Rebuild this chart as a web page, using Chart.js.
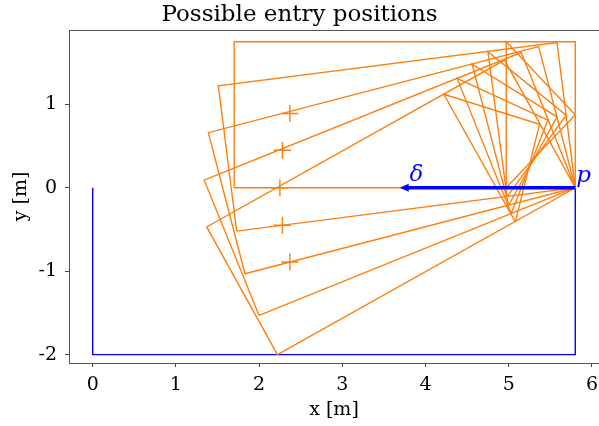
<!DOCTYPE html>
<html>
<head>
<meta charset="utf-8">
<script src="https://cdn.jsdelivr.net/npm/chart.js@4/dist/chart.umd.min.js"></script>
<style>
  html, body { margin: 0; padding: 0; background: #fff; overflow: hidden; }
  #wrap { width: 599px; height: 426px; }
</style>
</head>
<body>
<div id="wrap"><canvas id="entry-chart"></canvas></div>
<script>
// vehicle outlines, one per heading (corners), in metres
const carOutlines = [
  [[1.70, 0.00], [5.80, 0.00], [5.80, 1.75], [1.70, 1.75], [1.70, 0.00]],
  [[1.73, -0.52], [5.80, 0.00], [5.58, 1.74], [1.51, 1.22], [1.73, -0.52]],
  [[1.83, -1.03], [5.80, 0.00], [5.36, 1.69], [1.39, 0.66], [1.83, -1.03]],
  [[2.00, -1.53], [5.80, 0.00], [5.15, 1.62], [1.34, 0.09], [2.00, -1.53]],
  [[2.22, -2.00], [5.80, 0.00], [4.95, 1.53], [1.37, -0.47], [2.22, -2.00]]
];
// front marker (cross line + triangle to the nose)
const carNoses = [
  [[4.97, 0.00], [4.97, 1.75], [5.80, 0.875], [4.97, 0.00]],
  [[4.98, -0.11], [4.75, 1.63], [5.69, 0.87], [4.98, -0.11]],
  [[5.00, -0.21], [4.56, 1.48], [5.58, 0.85], [5.00, -0.21]],
  [[5.03, -0.31], [4.38, 1.31], [5.47, 0.81], [5.03, -0.31]],
  [[5.08, -0.41], [4.22, 1.12], [5.37, 0.76], [5.08, -0.41]]
];
const entryX = [2.37, 2.28, 2.25, 2.28, 2.37];
const entryY = [0.89, 0.45, 0.00, -0.45, -0.89];
const boundary = [[0, 0], [0, -2], [5.8, -2], [5.8, 0]];
const pointP = [5.8, 0];
const deltaEnd = [3.69, 0];
const xTicks = [0, 1, 2, 3, 4, 5, 6];
const yTicks = [-2, -1, 0, 1];

const ORANGE = '#ff7f0e';
const BLUE = '#0000ff';
const SERIF = '"DejaVu Serif", "Liberation Serif", serif';

const toPts = (arr) => arr.map(([x, y]) => ({ x, y }));

const datasets = [];
datasets.push({
  data: toPts(boundary), showLine: true, borderColor: BLUE, borderWidth: 1.4,
  pointRadius: 0, order: 2
});
carOutlines.forEach((poly) => datasets.push({
  data: toPts(poly), showLine: true, borderColor: ORANGE, borderWidth: 1.4,
  pointRadius: 0, order: 1
}));
carNoses.forEach((poly) => datasets.push({
  data: toPts(poly), showLine: true, borderColor: ORANGE, borderWidth: 1.4,
  pointRadius: 0, order: 1
}));
datasets.push({
  data: entryX.map((x, i) => ({ x, y: entryY[i] })), showLine: false,
  pointStyle: 'cross', pointRadius: 8.5, borderColor: ORANGE, borderWidth: 1.4,
  backgroundColor: ORANGE, order: 1
});
// delta arrow shaft, drawn on top of the vehicles
datasets.push({
  data: toPts([pointP, [deltaEnd[0] + 0.06, deltaEnd[1]]]), showLine: true,
  borderColor: BLUE, borderWidth: 3.5, pointRadius: 0, order: 0
});

// arrow head, p / delta labels and the top spine
const annotate = {
  id: 'annotate',
  afterDatasetsDraw(chart) {
    const { ctx, chartArea, scales } = chart;
    const xs = scales.x, ys = scales.y;
    ctx.save();
    ctx.strokeStyle = '#555';
    ctx.lineWidth = 1;
    ctx.beginPath();
    ctx.moveTo(chartArea.left, chartArea.top + 0.5);
    ctx.lineTo(chartArea.right, chartArea.top + 0.5);
    ctx.stroke();
    const tx = xs.getPixelForValue(deltaEnd[0]);
    const ty = ys.getPixelForValue(deltaEnd[1]);
    ctx.fillStyle = BLUE;
    ctx.beginPath();
    ctx.moveTo(tx, ty);
    ctx.lineTo(tx + 9, ty - 4);
    ctx.lineTo(tx + 9, ty + 4);
    ctx.closePath();
    ctx.fill();
    ctx.font = 'italic 23px ' + SERIF;
    ctx.textAlign = 'left';
    ctx.textBaseline = 'alphabetic';
    ctx.fillText('p', xs.getPixelForValue(pointP[0]) + 1, ys.getPixelForValue(pointP[1]) - 6);
    ctx.textAlign = 'center';
    ctx.fillText('δ', xs.getPixelForValue(3.89), ys.getPixelForValue(0) - 7);
    ctx.restore();
  }
};

new Chart(document.getElementById('entry-chart'), {
  type: 'scatter',
  data: { datasets },
  plugins: [annotate],
  options: {
    responsive: true,
    maintainAspectRatio: false,
    animation: false,
    layout: { padding: 0, autoPadding: false },
    plugins: {
      legend: { display: false },
      tooltip: { enabled: false },
      title: {
        display: true,
        text: 'Possible entry positions',
        color: '#000',
        font: { family: SERIF, size: 23, weight: 'normal', lineHeight: 1.1 },
        padding: { top: 2, bottom: 2.7 }
      }
    },
    scales: {
      x: {
        type: 'linear',
        min: -0.285,
        max: 6.085,
        afterFit: (s) => { s.height = 63; s.paddingLeft = 0; s.paddingRight = 0; },
        afterBuildTicks: (s) => { s.ticks = xTicks.map((v) => ({ value: v })); },
        grid: { display: true, drawOnChartArea: false, drawTicks: true, tickLength: 4, color: '#444' },
        border: { display: true, color: '#555', width: 1 },
        ticks: { color: '#000', padding: 7, font: { family: SERIF, size: 19 } },
        title: {
          display: true, text: 'x [m]', color: '#000',
          font: { family: SERIF, size: 19 }, padding: { top: 0, bottom: 5 }
        }
      },
      y: {
        type: 'linear',
        min: -2.1,
        max: 1.89,
        afterFit: (s) => { s.width = 69; s.paddingTop = 0; s.paddingBottom = 0; },
        afterBuildTicks: (s) => { s.ticks = yTicks.map((v) => ({ value: v })); },
        grid: { display: true, drawOnChartArea: false, drawTicks: true, tickLength: 4, color: '#444' },
        border: { display: true, color: '#555', width: 1 },
        ticks: { color: '#000', padding: 8, font: { family: SERIF, size: 19 } },
        title: {
          display: true, text: 'y [m]', color: '#000',
          font: { family: SERIF, size: 19 }, padding: { top: 10, bottom: 0 }
        }
      }
    }
  }
});
</script>
</body>
</html>
